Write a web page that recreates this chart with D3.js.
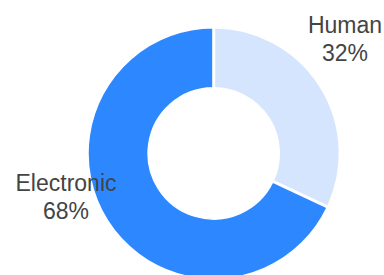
<!DOCTYPE html>
<html>
<head>
<meta charset="utf-8">
<script src="https://cdn.jsdelivr.net/npm/d3@7"></script>
<style>
  body { margin: 0; background: #fff; }
  svg { display: block; }
</style>
</head>
<body>
<script>
//Categories and values (percent)
var categories = ["Human", "Electronic"];
var values = [32, 68];
var colors = ["#d5e5fd", "#2d88ff"];

//Width and height
var w = 384;
var h = 275;

//Donut geometry
var cx = 213.7, cy = 153.4;
var outerR = 125.7, innerR = 65.6;

var svg = d3.select("body")
            .append("svg")
            .attr("width", w)
            .attr("height", h);

var pie = d3.pie().sort(null).value(function(d) { return d; });
var arcs = pie(values);

var arc = d3.arc()
            .innerRadius(innerR)
            .outerRadius(outerR)
            .padAngle(0.012)
            .padRadius(outerR);

var g = svg.append("g").attr("transform", "translate(" + cx + "," + cy + ")");

g.selectAll("path")
 .data(arcs)
 .enter()
 .append("path")
 .attr("d", arc)
 .style("fill", function(d, i) { return colors[i]; })
 .style("stroke", "#fff")
 .style("stroke-width", 1.5);

//Label placement: radius and angle for each label, measured from the top, clockwise
var labelRadius = [169, 156.4];
var labelAngle = [51, 250.8];

var labels = g.selectAll("text.lbl")
              .data(arcs)
              .enter()
              .append("text")
              .attr("class", "lbl")
              .attr("text-anchor", "middle")
              .style("font-family", "Arial, 'Liberation Sans', sans-serif")
              .style("font-size", "23px")
              .style("fill", "#444")
              .attr("transform", function(d, i) {
                  var a = labelAngle[i] * Math.PI / 180;
                  var x = Math.sin(a) * labelRadius[i];
                  var y = -Math.cos(a) * labelRadius[i];
                  return "translate(" + x + "," + y + ")";
              });

labels.append("tspan")
      .attr("x", 0)
      .attr("dy", "-0.6em")
      .text(function(d, i) { return categories[i]; });

labels.append("tspan")
      .attr("x", 0)
      .attr("dy", "1.2em")
      .text(function(d, i) { return d3.format(".0f")(values[i]) + "%"; });
</script>
</body>
</html>
